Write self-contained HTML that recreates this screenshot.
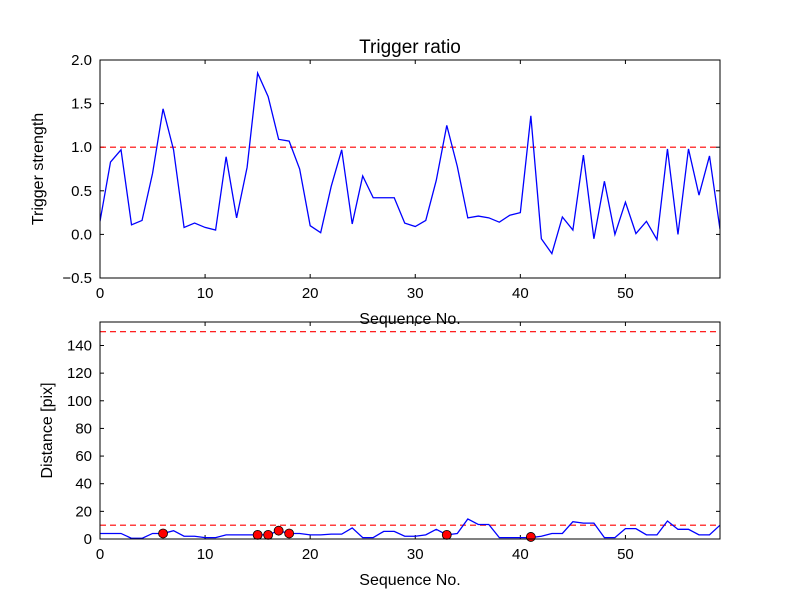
<!DOCTYPE html>
<html><head><meta charset="utf-8"><style>body{margin:0;background:#fff}svg{font-family:"Liberation Sans","DejaVu Sans",sans-serif}</style></head>
<body>
<svg id="c" width="800" height="600" xmlns="http://www.w3.org/2000/svg"></svg>
<script>
const seq = Array.from({length:60},(_,i)=>i);
const ratio = [0.15,0.83,0.97,0.11,0.16,0.7,1.44,0.97,0.08,0.13,0.08,0.05,0.89,0.19,0.77,1.85,1.58,1.09,1.07,0.75,0.1,0.02,0.55,0.97,0.12,0.67,0.42,0.42,0.42,0.13,0.09,0.16,0.62,1.25,0.78,0.19,0.21,0.19,0.14,0.22,0.25,1.36,-0.05,-0.22,0.2,0.05,0.91,-0.05,0.61,0.0,0.37,0.01,0.15,-0.06,0.98,0.0,0.98,0.45,0.9,0.06];
const dist = [4,4,4,0.5,0.5,4,4,6,2,2,1,1,3,3,3,3,3,6,4,4,3,3,3.5,3.5,8,1,1,5.5,5.5,2,2,3,7,3,4,14.5,10.5,10.5,1,1,1,1,2,4,4,12.5,11.5,11.5,1,1,7.5,7.5,3,3,13,7,7,3,3,10];
const triggerX = [6,15,16,17,18,33,41];
const triggerY = [4,3,3,6,4,3,1.5];
const topTicks = [-0.5,0.0,0.5,1.0,1.5,2.0];
const botTicks = [0,20,40,60,80,100,120,140];
const xTicks = [0,10,20,30,40,50];
const ratioThreshold = 1.0, distThreshold = [10,150];

const NS="http://www.w3.org/2000/svg", svg=document.getElementById('c');
function mk(tag,attrs,parent,text){const e=document.createElementNS(NS,tag);for(const k in attrs)e.setAttribute(k,attrs[k]);if(text!==undefined)e.textContent=text;(parent||svg).appendChild(e);return e;}
const L=100,R=720;
const sx=v=>L+(v-0)/(59-0)*(R-L);
function panel(name,top,bot,ymin,ymax,yt,fmt,ytitle,xtitle,ylx){
  const sy=v=>bot-(v-ymin)/(ymax-ymin)*(bot-top);
  const g=mk('g',{});
  
  
  const cp=mk('clipPath',{id:name+'-clip'},g);mk('rect',{x:L,y:top,width:R-L,height:bot-top},cp);
  for(const t of yt){const y=sy(t);
    mk('line',{x1:L,x2:L+4,y1:y,y2:y,stroke:'#000'},g);mk('line',{x1:R-4,x2:R,y1:y,y2:y,stroke:'#000'},g);
    const tx=mk('text',{x:L-8,y:y+5,'text-anchor':'end','font-size':15},g,fmt(t));
    }
  for(const t of xTicks){const x=sx(t);
    mk('line',{x1:x,x2:x,y1:bot,y2:bot-4,stroke:'#000'},g);mk('line',{x1:x,x2:x,y1:top,y2:top+4,stroke:'#000'},g);
    const tx=mk('text',{x:x,y:bot+20,'text-anchor':'middle','font-size':15},g,String(t));
    }
  const yl=mk('text',{x:0,y:0,'text-anchor':'middle','font-size':16,transform:`translate(${ylx},${(top+bot)/2}) rotate(-90)`},g,ytitle);
  
  const xl=mk('text',{x:(L+R)/2,y:bot+46,'text-anchor':'middle','font-size':16},g,xtitle);
  
  const inner=mk('g',{'clip-path':`url(#${name}-clip)`},g);
  return {sy,inner,g,top,bot};
}
const p1=panel('trigger-panel',60,278,-0.5,2.0,topTicks,v=>v.toFixed(1).replace('-','−'),'Trigger strength','Sequence No.',43);
const th1=mk('line',{x1:L,x2:R,y1:p1.sy(ratioThreshold),y2:p1.sy(ratioThreshold),stroke:'#f00','stroke-dasharray':'6,4','stroke-width':1.2},p1.inner);

const l1=mk('polyline',{points:seq.map((s,i)=>sx(s)+','+p1.sy(ratio[i])).join(' '),fill:'none',stroke:'#00f','stroke-width':1.3},p1.inner);

mk('rect',{x:L,y:60,width:R-L,height:218,fill:'none',stroke:'#000'},p1.g);
const title=mk('text',{x:(L+R)/2,y:53,'text-anchor':'middle','font-size':19},svg,'Trigger ratio');


const p2=panel('distance-panel',322,539,0,157,botTicks,v=>String(v),'Distance [pix]','Sequence No.',52);
for(const t of distThreshold){const ln=mk('line',{x1:L,x2:R,y1:p2.sy(t),y2:p2.sy(t),stroke:'#f00','stroke-dasharray':'6,4','stroke-width':1.2},p2.inner);
  }
const l2=mk('polyline',{points:seq.map((s,i)=>sx(s)+','+p2.sy(dist[i])).join(' '),fill:'none',stroke:'#00f','stroke-width':1.3},p2.inner);

triggerX.forEach((x,i)=>{const c=mk('circle',{cx:sx(x),cy:p2.sy(triggerY[i]),r:4.5,fill:'#f00',stroke:'#000','stroke-width':0.8},p2.g);
  });
mk('rect',{x:L,y:322,width:R-L,height:217,fill:'none',stroke:'#000'},p2.g);
</script>
</body></html>
